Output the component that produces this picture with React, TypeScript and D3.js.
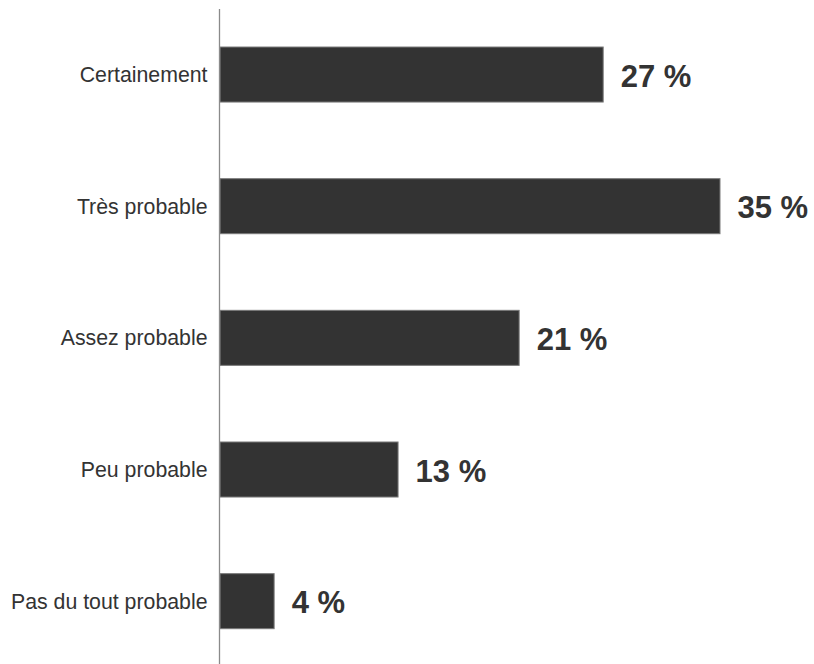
import React from "react";
import * as d3 from "d3";

const categories = ["Certainement", "Très probable", "Assez probable", "Peu probable", "Pas du tout probable"];
const values = [26.9, 35.1, 21.0, 12.5, 3.8];
const valueLabels = ["27 %", "35 %", "21 %", "13 %", "4 %"];

const W = 814;
const H = 664;

export default function App() {
  const x0 = 220;
  const x = d3.scaleLinear().domain([0, 35.1]).range([x0, 720]);
  const y = d3
    .scaleBand<string>()
    .domain(categories)
    .range([8.7, 667])
    .paddingInner(0.582)
    .paddingOuter(0.291);
  const bw = y.bandwidth();
  return (
    <svg
      width={W}
      height={H}
      style={{ position: "absolute", left: 0, top: 0, background: "#fff" }}
      fontFamily="'Liberation Sans', Arial, sans-serif"
    >
      {categories.map((c, i) => {
        const yy = y(c) as number;
        const cy = yy + bw / 2;
        return (
          <g key={c}>
            <rect
              x={x(0)}
              y={yy}
              width={x(values[i]) - x(0)}
              height={bw}
              fill="#333333"
              stroke="#7a7a7a"
              strokeWidth={1}
            />
            <text x={207.5} y={cy} dy="0.35em" textAnchor="end" fontSize={21.3} fill="#333">
              {c}
            </text>
            <text
              x={x(values[i]) + 17.5}
              y={cy}
              dy="0.39em"
              fontSize={31}
              fontWeight="bold"
              fill="#333"
            >
              {valueLabels[i]}
            </text>
          </g>
        );
      })}
      <line x1={219.5} x2={219.5} y1={9} y2={H} stroke="#8a8a8a" strokeWidth={1.3} />
    </svg>
  );
}
